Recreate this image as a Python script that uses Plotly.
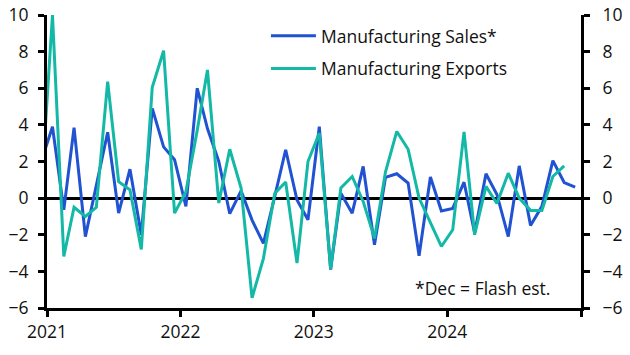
import pandas as pd
import plotly.graph_objects as go

# Monthly % changes, Dec 2020 .. Dec 2024 (sales) and Dec 2020 .. Nov 2024 (exports)
sales = [2.0, 3.9, -0.64, 3.85, -2.1, 0.75, 3.6, -0.82, 1.58, -2.0,
         4.9, 2.8, 2.1, -0.45, 6.0, 3.8, 2.0, -0.85, 0.4, -1.2,
         -2.47, 0.08, 2.64, -0.1, -1.18, 3.9, -3.9, 0.27, -0.82, 1.73,
         -2.55, 1.13, 1.33, 0.82, -3.15, 1.15, -0.7, -0.56, 0.87, -1.9,
         1.33, 0.2, -2.1, 1.76, -1.5, -0.45, 2.05, 0.85, 0.6]
exports = [0.3, 10.0, -3.18, -0.5, -1.0, -0.5, 6.36, 0.9, 0.45, -2.8,
           6.05, 8.05, -0.82, 0.35, 3.7, 7.0, -0.27, 2.67, 0.55, -5.45,
           -3.3, 0.26, 0.88, -3.55, 2.0, 3.55, -3.87, 0.55, 1.18, -0.18,
           -2.2, 1.42, 3.64, 2.67, 0.0, -1.3, -2.64, -1.73, 3.62, -2.0,
           0.64, -0.29, 1.36, 0.0, -0.67, -0.67, 1.18, 1.76]
start_month = "2020-12-01"
year_ticks = ["2021-01-01", "2022-01-01", "2023-01-01", "2024-01-01", "2025-01-01"]
year_labels = ["2021", "2022", "2023", "2024", ""]
y_ticks = [-6, -4, -2, 0, 2, 4, 6, 8, 10]
names = ["Manufacturing Sales*", "Manufacturing Exports"]
note = "*Dec = Flash est."

months_s = pd.date_range(start_month, periods=len(sales), freq="MS") + pd.Timedelta(days=15)
months_e = pd.date_range(start_month, periods=len(exports), freq="MS") + pd.Timedelta(days=15)

BLUE = "#2152d1"
TEAL = "#13b9a6"
FONT = "Open Sans"
FS = 17.5
TXT = "#111"

fig = go.Figure()
fig.add_trace(go.Scatter(x=months_s, y=sales, mode="lines", name=names[0],
                         line=dict(color=BLUE, width=3), legendgroup="a"))
fig.add_trace(go.Scatter(x=months_e, y=exports, mode="lines", name=names[1],
                         line=dict(color=TEAL, width=3), legendgroup="b"))
# invisible trace to drive right axis
fig.add_trace(go.Scatter(x=[months_s[1]], y=[0], yaxis="y2", mode="lines",
                         showlegend=False, hoverinfo="skip", line=dict(width=0)))

axis_common = dict(range=[-6, 10], tickvals=y_ticks, ticks="outside", ticklen=6,
                   tickwidth=3, tickcolor="black", showline=True, linecolor="black",
                   linewidth=3, showgrid=False, zeroline=True, zerolinecolor="black",
                   zerolinewidth=3, automargin=False,
                   tickfont=dict(family=FONT, size=FS, color=TXT))

fig.update_layout(
    width=630, height=355,
    margin=dict(l=47, r=49, t=15, b=47, autoexpand=False),
    plot_bgcolor="white", paper_bgcolor="white",
    font=dict(family=FONT, size=FS, color=TXT),
    xaxis=dict(type="date", range=["2021-01-01", "2025-01-01"], tickvals=year_ticks,
               ticktext=year_labels, ticks="outside", ticklen=6, tickwidth=3,
               tickcolor="black", showline=True, linecolor="black", linewidth=3,
               showgrid=False, zeroline=False, automargin=False,
               tickfont=dict(family=FONT, size=FS, color=TXT)),
    yaxis=dict(**axis_common, ticklabelstandoff=6),
    yaxis2=dict(**axis_common, overlaying="y", side="right", ticklabelstandoff=9),
    legend=dict(x=0.41, y=0.99, xanchor="left", yanchor="top",
                bgcolor="rgba(0,0,0,0)", font=dict(family=FONT, size=FS, color=TXT),
                traceorder="grouped", tracegroupgap=7, itemwidth=45),
    showlegend=True,
    annotations=[dict(text=note, xref="paper", yref="paper", x=0.686, y=0.068,
                      xanchor="left", yanchor="middle", showarrow=False,
                      font=dict(family=FONT, size=FS, color=TXT))],
)

fig.write_html("out.html", config={"displayModeBar": False},
               post_script="document.body.style.margin='0';")
